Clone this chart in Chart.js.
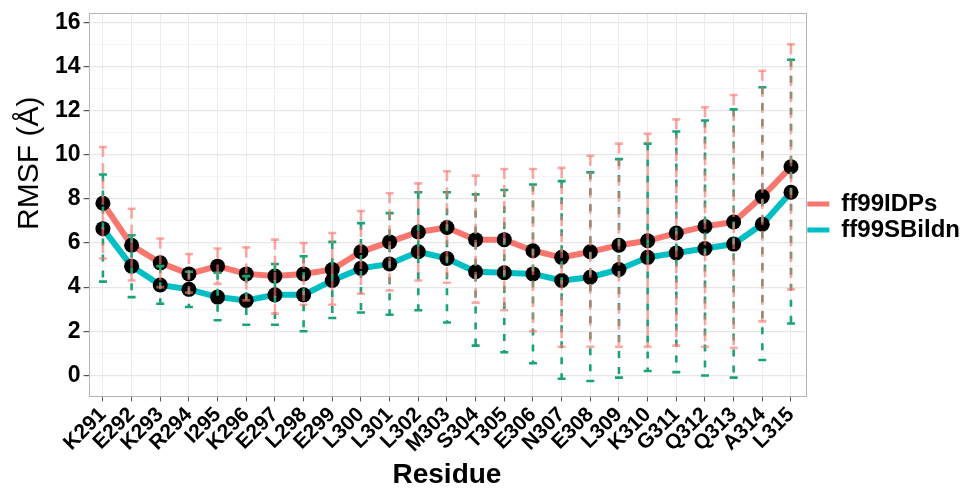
<!DOCTYPE html>
<html>
<head>
<meta charset="utf-8">
<script src="https://cdn.jsdelivr.net/npm/chart.js@4.4.1/dist/chart.umd.min.js"></script>
<style>
  html, body { margin: 0; padding: 0; background: #ffffff; }
  #wrap { width: 970px; height: 496px; position: relative; }
</style>
</head>
<body>
<div id="wrap"><canvas id="c" width="970" height="496"></canvas></div>
<script>
// ---- data ----
const residues = ["K291","E292","K293","R294","I295","K296","E297","L298","E299","L300","L301","L302","M303","S304","T305","E306","N307","E308","L309","K310","G311","Q312","Q313","A314","L315"];

const idpsMean  = [7.8, 5.9, 5.1, 4.6, 4.95, 4.6, 4.5, 4.6, 4.8, 5.6, 6.05, 6.5, 6.7, 6.15, 6.15, 5.65, 5.35, 5.6, 5.9, 6.1, 6.45, 6.75, 6.95, 8.1, 9.45];
const idpsUpper = [10.35, 7.55, 6.2, 5.5, 5.75, 5.8, 6.15, 6.0, 6.45, 7.45, 8.25, 8.7, 9.25, 9.05, 9.35, 9.35, 9.4, 9.95, 10.5, 10.95, 11.6, 12.15, 12.7, 13.8, 15.0];
const idpsLower = [5.3, 4.3, 4.0, 3.75, 4.15, 3.4, 2.8, 3.2, 3.2, 3.7, 3.85, 4.3, 4.2, 3.3, 2.95, 2.0, 1.3, 1.3, 1.3, 1.3, 1.35, 1.3, 1.25, 2.45, 3.9];

const sbMean  = [6.65, 4.95, 4.1, 3.9, 3.55, 3.4, 3.65, 3.65, 4.3, 4.85, 5.05, 5.6, 5.3, 4.7, 4.65, 4.6, 4.3, 4.45, 4.8, 5.35, 5.55, 5.75, 5.95, 6.85, 8.3];
const sbUpper = [9.1, 6.35, 4.95, 4.7, 4.65, 4.5, 5.05, 5.4, 6.05, 6.9, 7.35, 8.3, 8.3, 8.2, 8.4, 8.65, 8.8, 9.2, 9.8, 10.5, 11.05, 11.55, 12.05, 13.05, 14.3];
const sbLower = [4.25, 3.55, 3.25, 3.1, 2.5, 2.3, 2.3, 2.0, 2.6, 2.85, 2.75, 2.95, 2.4, 1.35, 1.05, 0.55, -0.15, -0.25, -0.1, 0.2, 0.15, 0.0, -0.1, 0.7, 2.35];

const seriesNames = ["ff99IDPs", "ff99SBildn"];
const yTickValues = [0, 2, 4, 6, 8, 10, 12, 14, 16];

// ---- styles ----
const FONT = "'Liberation Sans', Arial, Helvetica, sans-serif";
Chart.defaults.font.family = FONT;
const RED = "#F8766D", CYAN = "#00BFC4";
const RED_ERR = "rgba(248,118,109,0.62)", GREEN_ERR = "#1AA374";

const errorBars = [
  { upper: sbUpper,   lower: sbLower,   color: GREEN_ERR, dash: [7, 9], width: 2.6 },
  { upper: idpsUpper, lower: idpsLower, color: RED_ERR,   dash: [10, 6], width: 2.6 }
];

const errorBarPlugin = {
  id: "errorBars",
  afterDatasetsDraw(chart) {
    const { ctx, scales: { x, y } } = chart;
    ctx.save();
    errorBars.forEach(eb => {
      ctx.strokeStyle = eb.color;
      ctx.lineWidth = eb.width;
      eb.upper.forEach((u, i) => {
        const px = x.getPixelForValue(i);
        const pt = y.getPixelForValue(u);
        const pb = y.getPixelForValue(eb.lower[i]);
        ctx.setLineDash(eb.dash);
        ctx.beginPath();
        ctx.moveTo(px, pt);
        ctx.lineTo(px, pb);
        ctx.stroke();
        ctx.setLineDash([]);
        ctx.beginPath();
        ctx.moveTo(px - 4, pt); ctx.lineTo(px + 4, pt);
        ctx.moveTo(px - 4, pb); ctx.lineTo(px + 4, pb);
        ctx.stroke();
      });
    });
    ctx.restore();
  }
};

const framePlugin = {
  id: "frame",
  afterDraw(chart) {
    const { ctx, chartArea: a } = chart;
    ctx.save();
    ctx.strokeStyle = "#b3b3b3";
    ctx.lineWidth = 1;
    ctx.strokeRect(Math.round(a.left) + 0.5, Math.round(a.top) + 0.5, Math.round(a.right - a.left), Math.round(a.bottom - a.top));
    ctx.restore();
  }
};

new Chart(document.getElementById("c"), {
  type: "line",
  data: {
    labels: residues,
    datasets: [
      { label: seriesNames[0], data: idpsMean, borderColor: RED, backgroundColor: RED,
        borderWidth: 6, pointRadius: 7.5, pointBackgroundColor: "#000", pointBorderColor: "#000",
        pointBorderWidth: 0, tension: 0, fill: false },
      { label: seriesNames[1], data: sbMean, borderColor: CYAN, backgroundColor: CYAN,
        borderWidth: 6, pointRadius: 7.5, pointBackgroundColor: "#000", pointBorderColor: "#000",
        pointBorderWidth: 0, tension: 0, fill: false }
    ]
  },
  options: {
    responsive: false,
    animation: false,
    devicePixelRatio: 1,
    layout: { padding: { left: 12, right: 0, top: 4, bottom: 4 } },
    plugins: {
      legend: {
        position: "right",
        align: "center",
        fullSize: false,
        title: { display: true, text: " ", padding: 0, font: { size: 20, lineHeight: 1.2 } },
        labels: {
          boxWidth: 22, boxHeight: 5, padding: 2,
          color: "#000",
          font: { size: 24, weight: "bold", family: FONT, lineHeight: 0.95 },
          generateLabels(chart) {
            return chart.data.datasets.map((d, i) => ({
              text: d.label, fillStyle: d.borderColor, strokeStyle: d.borderColor,
              lineWidth: 0, hidden: false, datasetIndex: i, fontColor: "#000"
            }));
          }
        }
      },
      tooltip: { enabled: false }
    },
    scales: {
      x: {
        type: "category",
        offset: true,
        grid: { offset: false, color: "#ececec", lineWidth: 1, tickColor: "#555", tickLength: 5, drawTicks: true },
        border: { display: false },
        ticks: { color: "#000", minRotation: 45, maxRotation: 45, autoSkip: false, padding: 1,
                 font: { size: 21, weight: "bold", family: FONT } },
        title: { display: true, text: "Residue", color: "#000", padding: { top: 0, bottom: 0 },
                 font: { size: 28, weight: "bold", family: FONT } }
      },
      y: {
        min: -0.95,
        max: 16.4,
        afterBuildTicks(scale) {
          const out = [];
          for (let v = 0; v <= 16; v++) out.push({ value: v });
          scale.ticks = out;
        },
        grid: {
          color: ctx => (ctx.tick && yTickValues.includes(ctx.tick.value)) ? "#e6e6e6" : "#f3f3f3",
          lineWidth: ctx => (ctx.tick && yTickValues.includes(ctx.tick.value)) ? 1.2 : 0.8,
          tickColor: ctx => (ctx.tick && yTickValues.includes(ctx.tick.value)) ? "#555" : "rgba(0,0,0,0)",
          tickLength: 5
        },
        border: { display: false },
        ticks: {
          color: "#000", padding: 3, autoSkip: false,
          font: { size: 23, weight: "bold", family: FONT, lineHeight: 0.9 },
          callback: v => yTickValues.includes(v) ? String(v) : ""
        },
        title: { display: true, text: "          RMSF (Å)", color: "#000", padding: { top: 0, bottom: 4 },
                 font: { size: 30, weight: "normal", family: FONT } }
      }
    }
  },
  plugins: [errorBarPlugin, framePlugin]
});
</script>
</body>
</html>
